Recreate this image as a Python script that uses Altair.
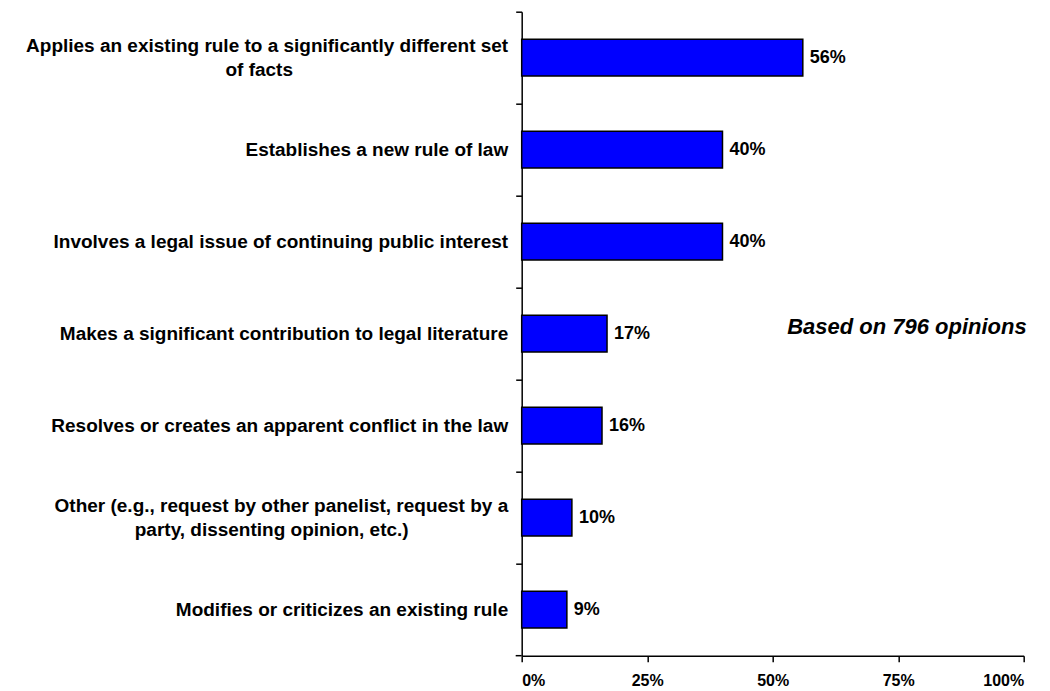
import altair as alt
import pandas as pd

categories = [
    "Applies an existing rule to a significantly different set of facts",
    "Establishes a new rule of law",
    "Involves a legal issue of continuing public interest",
    "Makes a significant contribution to legal literature",
    "Resolves or creates an apparent conflict in the law",
    "Other (e.g., request by other panelist, request by a party, dissenting opinion, etc.)",
    "Modifies or criticizes an existing rule",
]
label_line1 = [
    "Applies an existing rule to a significantly different set",
    "Establishes a new rule of law",
    "Involves a legal issue of continuing public interest",
    "Makes a significant contribution to legal literature",
    "Resolves or creates an apparent conflict in the law",
    "Other (e.g., request by other panelist, request by a",
    "Modifies or criticizes an existing rule",
]
label_line2 = ["of facts", "", "", "", "", "party, dissenting opinion, etc.)", ""]
values = [56, 40, 40, 17, 16, 10, 9]
x_ticks = [0, 25, 50, 75, 100]
note = "Based on 796 opinions"

W, H = 502, 644
FONT = "Liberation Sans"

df = pd.DataFrame({
    "category": categories,
    "line1": label_line1,
    "line2": label_line2,
    "value": values,
})
df["label"] = [f"{v}%" for v in values]

y_enc = alt.Y(
    "category:N",
    sort=categories,
    scale=alt.Scale(paddingInner=0, paddingOuter=0),
    axis=alt.Axis(
        labels=False, title=None, bandPosition=0, tickSize=6,
        domainColor="black", tickColor="black", domainWidth=1.5, tickWidth=1.5,
    ),
)
x_enc = alt.X(
    "value:Q",
    scale=alt.Scale(domain=[0, 100], nice=False),
    axis=alt.Axis(
        values=x_ticks, labelExpr="datum.value + '%'", title=None, grid=False,
        tickSize=6, labelPadding=11, labelFontSize=16, labelFontWeight="bold",
        labelFont=FONT, labelColor="black", domainColor="black", tickColor="black",
        domainWidth=1.5, tickWidth=1.5,
    ),
)

base = alt.Chart(df)

bars = base.mark_bar(
    fill="#0000FF", stroke="black", strokeWidth=1.5, height={"band": 0.4}
).encode(x=x_enc, y=y_enc)

values_text = base.mark_text(
    align="left", baseline="middle", dx=7, fontSize=18, fontWeight="bold",
    font=FONT, color="black",
).encode(x="value:Q", y=alt.Y("category:N", sort=categories), text="label:N")

single = base.transform_filter("datum.line2 == ''").mark_text(
    align="right", baseline="middle", fontSize=19, fontWeight="bold",
    font=FONT, color="black",
).encode(x=alt.value(-13.5), y=alt.Y("category:N", sort=categories), text="line1:N")

multi1 = base.transform_filter("datum.line2 != ''").mark_text(
    align="right", baseline="middle", dy=-12, fontSize=19, fontWeight="bold",
    font=FONT, color="black",
).encode(x=alt.value(-13.5), y=alt.Y("category:N", sort=categories), text="line1:N")

line2_center = {"of facts": -262.5, "party, dissenting opinion, etc.)": -250}
multi2_layers = []
for txt, cx in line2_center.items():
    multi2_layers.append(
        base.transform_filter(alt.datum.line2 == txt).mark_text(
            align="center", baseline="middle", dy=12, fontSize=19, fontWeight="bold",
            font=FONT, color="black",
        ).encode(x=alt.value(cx), y=alt.Y("category:N", sort=categories), text="line2:N")
    )

bottom_tick = alt.Chart(pd.DataFrame({"t": [0]})).mark_rule(
    color="black", strokeWidth=1.5
).encode(x=alt.value(-6), x2=alt.value(0), y=alt.value(H))

note_text = alt.Chart(pd.DataFrame({"note": [note]})).mark_text(
    align="right", baseline="alphabetic", fontSize=22, fontWeight="bold",
    fontStyle="italic", font=FONT, color="black",
).encode(x=alt.value(505), y=alt.value(322.6), text="note:N")

chart = alt.layer(
    bars, values_text, single, multi1, *multi2_layers, bottom_tick, note_text
).properties(
    width=W, height=H,
    autosize=alt.AutoSizeParams(type="none"),
    padding={"left": 513.7, "top": 3.7, "right": 12, "bottom": 33},
).configure(
    background="white",
    view=alt.ViewConfig(stroke=None),
)

chart.save("out.html", embed_options={"renderer": "svg", "actions": False})
